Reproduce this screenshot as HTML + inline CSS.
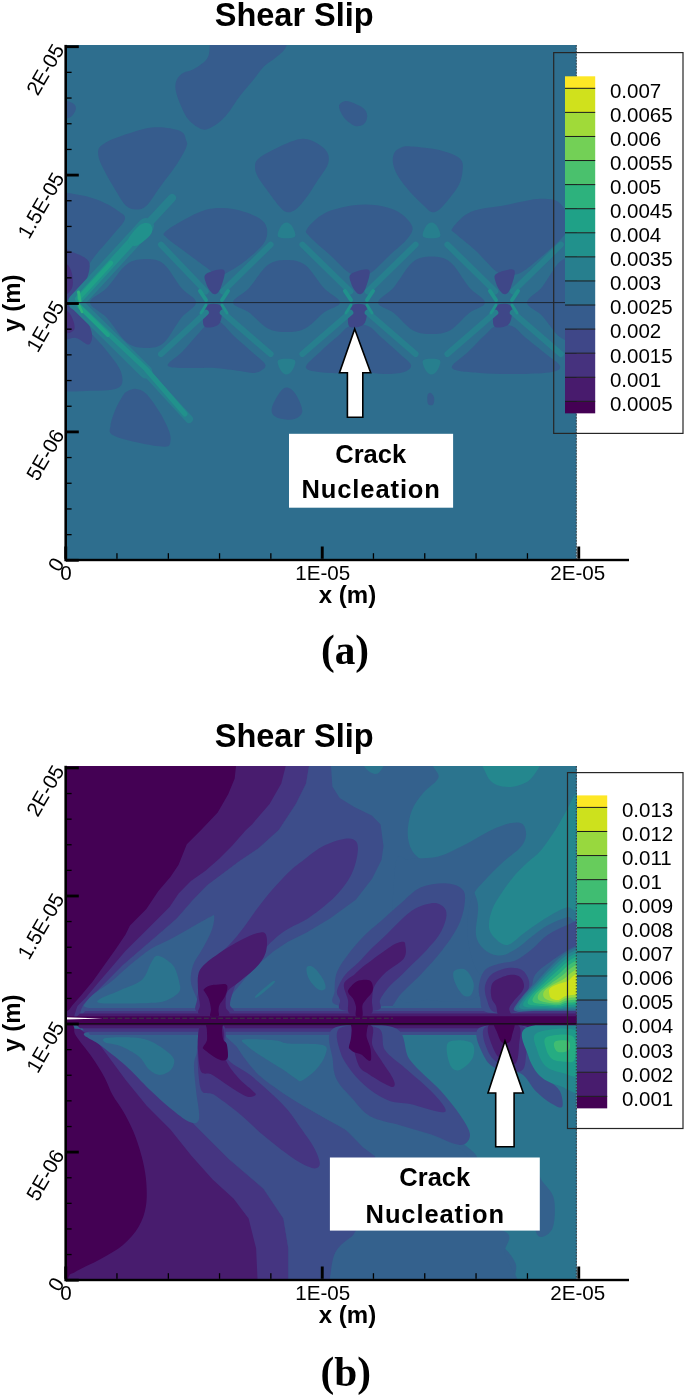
<!DOCTYPE html>
<html><head><meta charset="utf-8"><title>Shear Slip</title>
<style>html,body{margin:0;padding:0;background:#fff;} body{width:685px;height:1396px;overflow:hidden;} svg{display:block;will-change:transform;}</style>
</head><body>
<svg width="685" height="1396" viewBox="0 0 685 1396">
<clipPath id="ca"><rect x="66" y="45.1" width="510.6" height="514.9"/></clipPath>
<g clip-path="url(#ca)">
<rect x="60" y="40" width="530" height="530" fill="#2e6e8e"/>
<path fill="#365c8d" d="M209.8,38.0 C197.0,39.2 210.2,41.9 209.8,45.3 C209.4,48.7 209.8,54.5 207.2,58.4 C204.6,62.3 197.9,66.5 194.0,68.9 C190.1,71.3 186.3,71.0 183.5,72.8 C180.7,74.5 178.2,76.6 176.9,79.4 C175.6,82.2 174.9,85.5 175.6,89.9 C176.3,94.3 178.7,100.7 180.9,105.7 C183.1,110.7 185.3,116.2 188.8,120.1 C192.3,124.0 198.0,128.2 201.9,129.3 C205.8,130.4 208.5,128.9 212.4,126.7 C216.3,124.5 220.8,121.5 225.5,116.2 C230.2,111.0 235.8,101.3 240.5,95.2 C245.2,89.1 249.7,84.2 253.6,79.4 C257.6,74.6 260.7,69.8 264.2,66.3 C267.7,62.8 271.6,60.8 274.7,58.4 C277.8,56.0 280.6,54.0 282.6,51.8 C284.6,49.6 285.9,47.6 286.5,45.3 C287.1,43.0 299.3,39.2 286.5,38.0 C273.7,36.8 222.6,36.8 209.8,38.0Z"/>
<path fill="#365c8d" d="M60.0,100.4 C61.0,97.3 63.7,99.8 66.0,100.4 C68.3,101.0 72.4,102.5 74.0,104.0 C75.6,105.5 76.1,107.3 75.8,109.3 C75.5,111.3 73.6,114.4 72.0,116.0 C70.4,117.6 68.0,118.3 66.0,118.8 C64.0,119.3 61.0,121.9 60.0,118.8 C59.0,115.7 59.0,103.5 60.0,100.4Z"/>
<path fill="#365c8d" d="M339.0,105.7 C339.4,103.2 343.2,101.4 345.6,101.0 C348.0,100.6 350.4,101.8 353.5,103.1 C356.6,104.4 361.7,106.6 364.0,108.8 C366.3,111.0 367.2,113.7 367.2,116.2 C367.2,118.8 365.9,122.4 364.0,124.1 C362.1,125.8 358.5,126.4 356.1,126.2 C353.7,126.0 351.8,124.5 349.6,122.8 C347.4,121.1 344.8,119.0 343.0,116.2 C341.2,113.4 338.6,108.2 339.0,105.7Z"/>
<path fill="#365c8d" d="M98.1,153.0 C98.1,149.5 98.7,147.7 102.0,145.1 C105.3,142.5 109.5,140.1 117.8,137.2 C126.1,134.3 141.7,128.6 152.0,127.5 C162.3,126.4 173.9,128.6 179.6,130.7 C185.3,132.8 185.0,137.1 186.1,139.9 C187.2,142.7 187.8,143.3 186.1,147.7 C184.3,152.1 180.0,159.5 175.6,166.1 C171.2,172.7 164.7,180.6 159.9,187.2 C155.1,193.8 150.6,201.8 146.7,205.5 C142.8,209.2 139.7,209.5 136.2,209.5 C132.7,209.5 129.2,208.8 125.7,205.5 C122.2,202.2 119.2,196.4 115.2,189.8 C111.2,183.2 104.8,172.2 102.0,166.1 C99.2,160.0 98.1,156.5 98.1,153.0Z"/>
<path fill="#365c8d" d="M255.0,166.1 C255.2,163.0 255.6,161.0 258.9,158.2 C262.2,155.3 268.1,152.2 274.7,149.0 C281.3,145.8 292.2,140.7 298.3,139.3 C304.4,137.9 307.3,139.0 311.5,140.4 C315.7,141.8 320.5,145.2 323.3,147.7 C326.1,150.2 327.9,152.5 328.5,155.6 C329.1,158.7 329.2,161.7 327.2,166.1 C325.2,170.5 320.2,176.6 316.7,181.9 C313.2,187.2 309.7,193.1 306.2,197.7 C302.7,202.3 299.0,207.1 295.7,209.5 C292.4,211.9 289.4,212.8 286.5,212.1 C283.6,211.4 281.9,209.2 278.6,205.5 C275.3,201.8 270.3,194.6 266.8,189.8 C263.3,185.0 259.6,180.6 257.6,176.6 C255.6,172.6 254.8,169.2 255.0,166.1Z"/>
<path fill="#365c8d" d="M393.0,163.5 C392.3,159.6 392.9,155.6 394.2,153.0 C395.5,150.4 398.1,148.8 400.8,147.7 C403.5,146.6 404.9,146.2 410.5,146.4 C416.1,146.6 427.2,147.7 434.2,149.0 C441.2,150.3 448.0,152.3 452.6,154.3 C457.2,156.3 460.2,158.1 461.8,160.9 C463.4,163.8 462.9,167.5 462.5,171.4 C462.1,175.3 461.2,180.1 459.1,184.5 C457.0,188.9 453.2,193.5 449.9,197.7 C446.6,201.9 442.5,207.1 439.4,209.5 C436.3,211.9 434.1,212.8 431.5,212.1 C428.9,211.4 427.1,208.8 423.6,205.5 C420.1,202.2 414.7,197.2 410.5,192.4 C406.3,187.6 401.1,181.4 398.2,176.6 C395.3,171.8 393.7,167.4 393.0,163.5Z"/>
<path fill="#365c8d" d="M58.0,190.0 C59.3,171.7 61.3,191.3 66.0,192.4 C70.7,193.5 79.8,194.6 86.3,196.3 C92.8,198.1 99.5,200.5 104.7,202.9 C110.0,205.3 114.4,208.1 117.8,210.8 C121.2,213.5 126.0,214.8 125.0,219.0 C124.0,223.2 117.5,229.2 112.0,236.0 C106.5,242.8 98.3,251.0 92.0,260.0 C85.7,269.0 78.3,283.0 74.0,290.0 C69.7,297.0 68.7,300.0 66.0,302.0 C63.3,304.0 59.3,320.7 58.0,302.0 C56.7,283.3 56.7,208.3 58.0,190.0Z"/>
<path fill="#365c8d" d="M165.0,232.0 C167.8,229.0 176.8,223.7 183.5,220.0 C190.2,216.3 198.4,212.0 205.0,210.0 C211.6,208.0 217.2,207.9 223.0,208.0 C228.8,208.1 234.0,208.8 240.0,210.5 C246.0,212.2 254.4,215.1 258.9,218.0 C263.4,220.9 265.9,223.8 266.8,228.0 C267.7,232.2 267.5,237.6 264.0,243.0 C260.5,248.4 251.5,255.7 245.8,260.4 C240.1,265.1 234.6,268.4 230.0,271.0 C225.4,273.6 221.8,276.5 218.0,276.0 C214.2,275.5 212.3,271.9 207.0,268.0 C201.7,264.1 192.7,257.5 186.0,252.5 C179.3,247.5 170.5,241.4 167.0,238.0 C163.5,234.6 162.2,235.0 165.0,232.0Z"/>
<path fill="#365c8d" d="M307.0,229.0 C309.5,225.0 317.2,216.9 325.0,213.0 C332.8,209.1 344.8,206.6 353.5,205.3 C362.2,204.0 369.6,204.2 377.0,205.3 C384.4,206.4 392.4,208.4 398.2,211.8 C404.0,215.2 410.4,221.6 412.0,226.0 C413.6,230.4 411.7,233.2 408.0,238.0 C404.3,242.8 396.0,249.3 390.0,255.0 C384.0,260.7 377.0,268.5 372.0,272.0 C367.0,275.5 364.0,276.0 360.0,276.0 C356.0,276.0 353.0,275.5 348.0,272.0 C343.0,268.5 336.3,260.8 330.0,255.0 C323.7,249.2 313.8,241.3 310.0,237.0 C306.2,232.7 304.5,233.0 307.0,229.0Z"/>
<path fill="#365c8d" d="M452.6,228.0 C455.1,224.3 462.3,215.6 471.0,211.8 C479.7,208.0 495.2,207.3 505.0,205.3 C514.8,203.3 523.0,201.1 530.0,200.0 C537.0,198.9 542.4,198.7 547.0,199.0 C551.6,199.3 554.5,199.4 557.7,201.6 C560.9,203.8 564.3,207.6 566.0,212.0 C567.7,216.4 569.0,223.3 568.0,228.0 C567.0,232.7 564.7,235.0 560.0,240.0 C555.3,245.0 546.3,252.7 540.0,258.0 C533.7,263.3 527.0,269.2 522.0,272.0 C517.0,274.8 514.2,275.0 510.0,275.0 C505.8,275.0 502.8,276.2 497.0,272.0 C491.2,267.8 481.8,256.3 475.0,250.0 C468.2,243.7 459.7,237.7 456.0,234.0 C452.3,230.3 450.1,231.7 452.6,228.0Z"/>
<path fill="#365c8d" d="M90.0,302.5 C90.0,297.5 100.9,294.1 107.0,287.7 C113.2,281.3 120.2,269.0 126.9,264.2 C133.5,259.4 140.5,259.0 146.7,259.0 C152.9,259.0 158.2,259.4 164.0,264.2 C169.7,269.0 175.9,281.3 181.2,287.7 C186.6,294.1 196.0,297.5 196.0,302.5 C196.0,307.5 186.6,311.3 181.2,318.0 C175.9,324.6 169.7,337.5 164.0,342.5 C158.2,347.5 152.9,348.0 146.7,348.0 C140.5,348.0 133.5,347.5 126.9,342.5 C120.2,337.5 113.2,324.6 107.0,318.0 C100.9,311.3 90.0,307.5 90.0,302.5Z"/>
<path fill="#365c8d" d="M233.0,302.5 C233.0,298.4 243.3,294.3 249.1,288.1 C254.8,281.8 261.5,269.8 267.8,265.1 C274.0,260.4 280.3,260.0 286.5,260.0 C292.7,260.0 299.0,260.4 305.2,265.1 C311.5,269.8 318.2,281.8 323.9,288.1 C329.7,294.3 340.0,298.4 340.0,302.5 C340.0,306.6 329.7,308.2 323.9,312.5 C318.2,316.9 311.5,325.2 305.2,328.5 C299.0,331.7 292.7,332.0 286.5,332.0 C280.3,332.0 274.0,331.7 267.8,328.5 C261.5,325.2 254.8,316.9 249.1,312.5 C243.3,308.2 233.0,306.6 233.0,302.5Z"/>
<path fill="#365c8d" d="M378.0,302.5 C378.0,298.1 388.3,293.6 394.1,286.9 C399.8,280.1 406.5,267.1 412.8,262.0 C419.0,257.0 425.3,256.5 431.5,256.5 C437.7,256.5 444.0,257.0 450.2,262.0 C456.5,267.1 463.2,280.1 468.9,286.9 C474.7,293.6 485.0,298.1 485.0,302.5 C485.0,306.9 474.7,308.6 468.9,313.2 C463.2,317.8 456.5,326.8 450.2,330.2 C444.0,333.7 437.7,334.0 431.5,334.0 C425.3,334.0 419.0,333.7 412.8,330.2 C406.5,326.8 399.8,317.8 394.1,313.2 C388.3,308.6 378.0,306.9 378.0,302.5Z"/>
<path fill="#365c8d" d="M527.0,302.5 C527.0,297.6 536.8,293.5 542.3,286.7 C547.8,279.9 554.2,266.7 560.1,261.6 C566.1,256.5 572.0,256.0 578.0,256.0 C584.0,256.0 590.1,256.5 596.2,261.6 C602.3,266.7 608.8,279.9 614.4,286.7 C620.0,293.5 630.0,297.6 630.0,302.5 C630.0,307.4 620.0,310.1 614.4,315.9 C608.8,321.7 602.3,332.9 596.2,337.3 C590.1,341.6 584.0,342.0 578.0,342.0 C572.0,342.0 566.1,341.6 560.1,337.3 C554.2,332.9 547.8,321.7 542.3,315.9 C536.8,310.1 527.0,307.4 527.0,302.5Z"/>
<path fill="#365c8d" d="M58.0,306.0 C60.0,292.4 65.0,306.0 70.0,310.0 C75.0,314.0 82.0,323.3 88.0,330.0 C94.0,336.7 100.5,343.0 106.0,350.0 C111.5,357.0 119.0,365.7 121.0,372.0 C123.0,378.3 123.8,384.8 118.0,388.0 C112.2,391.2 95.0,390.4 86.3,391.0 C77.6,391.6 70.7,391.4 66.0,391.5 C61.3,391.6 59.3,405.8 58.0,391.5 C56.7,377.2 56.0,319.6 58.0,306.0Z"/>
<path fill="#365c8d" d="M168.0,366.0 C165.6,363.3 177.0,357.3 182.0,352.0 C187.0,346.7 193.3,339.0 198.0,334.0 C202.7,329.0 206.3,324.0 210.0,322.0 C213.7,320.0 216.0,319.7 220.0,322.0 C224.0,324.3 228.7,331.0 234.0,336.0 C239.3,341.0 246.8,347.3 252.0,352.0 C257.2,356.7 263.3,361.0 265.0,364.0 C266.7,367.0 263.9,368.5 262.0,370.0 C260.1,371.5 257.3,372.8 253.6,373.0 C249.9,373.2 246.4,371.8 240.0,371.0 C233.6,370.2 222.2,368.5 215.0,368.0 C207.8,367.5 204.4,368.3 196.6,368.0 C188.8,367.7 170.4,368.7 168.0,366.0Z"/>
<path fill="#365c8d" d="M306.0,368.0 C304.3,364.5 314.7,357.3 320.0,352.0 C325.3,346.7 333.0,340.3 338.0,336.0 C343.0,331.7 345.0,327.7 350.0,326.0 C355.0,324.3 362.7,324.0 368.0,326.0 C373.3,328.0 376.7,333.3 382.0,338.0 C387.3,342.7 395.2,349.5 400.0,354.0 C404.8,358.5 410.3,362.0 411.0,365.0 C411.7,368.0 408.3,370.5 404.0,372.0 C399.7,373.5 392.3,374.0 385.0,374.0 C377.7,374.0 369.2,372.2 360.0,372.0 C350.8,371.8 339.0,373.7 330.0,373.0 C321.0,372.3 307.7,371.5 306.0,368.0Z"/>
<path fill="#365c8d" d="M452.0,368.0 C450.0,364.5 462.3,357.7 468.0,352.0 C473.7,346.3 481.3,338.3 486.0,334.0 C490.7,329.7 491.7,327.3 496.0,326.0 C500.3,324.7 507.0,324.0 512.0,326.0 C517.0,328.0 520.3,333.3 526.0,338.0 C531.7,342.7 540.3,349.3 546.0,354.0 C551.7,358.7 559.0,363.0 560.0,366.0 C561.0,369.0 558.7,370.7 552.0,372.0 C545.3,373.3 532.0,373.8 520.0,374.0 C508.0,374.2 491.3,374.0 480.0,373.0 C468.7,372.0 454.0,371.5 452.0,368.0Z"/>
<path fill="#365c8d" d="M127.0,391.5 C129.2,390.4 132.9,388.4 136.2,388.9 C139.5,389.3 142.8,390.2 146.7,394.2 C150.6,398.1 156.2,406.5 159.9,412.6 C163.6,418.7 167.2,426.2 169.0,431.0 C170.8,435.8 171.1,438.9 170.4,441.5 C169.8,444.1 170.4,446.5 165.1,446.7 C159.8,446.9 147.6,444.8 138.8,442.8 C130.1,440.8 117.3,437.8 112.6,434.9 C107.9,432.0 110.1,429.8 110.5,425.7 C110.9,421.6 113.1,415.0 115.2,410.0 C117.3,405.0 121.0,398.6 123.0,395.5 C125.0,392.4 124.8,392.6 127.0,391.5Z"/>
<path fill="#365c8d" d="M272.0,407.3 C272.9,403.8 276.2,397.5 278.6,394.2 C281.0,390.9 283.6,387.6 286.5,387.6 C289.4,387.6 293.1,390.3 295.7,394.2 C298.3,398.1 302.5,407.0 302.3,411.2 C302.1,415.4 297.7,417.8 294.4,419.1 C291.1,420.4 286.1,419.8 282.6,419.1 C279.1,418.5 275.2,417.2 273.4,415.2 C271.6,413.2 271.1,410.8 272.0,407.3Z"/>
<path fill="#365c8d" d="M427.6,395.0 C428.1,393.2 429.9,392.5 431.0,393.0 C432.1,393.5 433.9,396.1 434.2,398.0 C434.5,399.9 434.0,403.7 433.0,404.7 C432.0,405.7 428.9,405.6 428.0,404.0 C427.1,402.4 427.1,396.8 427.6,395.0Z"/>
<path fill="#3f4788" d="M58.0,250.0 C60.3,242.0 66.8,250.0 72.0,252.0 C77.2,254.0 86.7,257.0 89.0,262.0 C91.3,267.0 87.7,275.7 86.0,282.0 C84.3,288.3 83.7,297.0 79.0,300.0 C74.3,303.0 61.5,308.3 58.0,300.0 C54.5,291.7 55.7,258.0 58.0,250.0Z"/>
<path fill="#46327e" d="M58.0,262.0 C60.0,257.3 67.7,263.7 70.0,268.0 C72.3,272.3 74.0,283.3 72.0,288.0 C70.0,292.7 60.3,300.3 58.0,296.0 C55.7,291.7 56.0,266.7 58.0,262.0Z"/>
<path fill="#3f4788" d="M58.0,305.0 C61.6,300.4 74.1,306.0 79.7,310.4 C85.3,314.8 90.0,325.7 91.5,331.4 C93.0,337.1 91.6,343.4 89.0,344.5 C86.4,345.6 81.0,339.1 75.8,338.0 C70.6,336.9 61.0,343.5 58.0,338.0 C55.0,332.5 54.4,309.6 58.0,305.0Z"/>
<path fill="#46327e" d="M58.0,308.0 C60.0,305.0 67.3,310.3 70.0,314.0 C72.7,317.7 76.0,327.0 74.0,330.0 C72.0,333.0 60.7,335.7 58.0,332.0 C55.3,328.3 56.0,311.0 58.0,308.0Z"/>
<path fill="#3f4788" d="M206.0,274.0 C209.0,271.8 221.5,267.8 224.0,270.0 C226.5,272.2 222.3,283.0 221.0,287.0 C219.7,291.0 217.7,293.2 216.0,294.0 C214.3,294.8 212.7,293.8 211.0,292.0 C209.3,290.2 206.8,286.0 206.0,283.0 C205.2,280.0 203.0,276.2 206.0,274.0Z"/>
<path fill="#3f4788" d="M206.0,306.0 C208.8,302.7 218.8,303.0 221.0,306.0 C223.2,309.0 221.8,320.7 219.0,324.0 C216.2,327.3 206.2,329.0 204.0,326.0 C201.8,323.0 203.2,309.3 206.0,306.0Z"/>
<path fill="#3f4788" d="M351.0,274.0 C354.0,271.8 366.5,267.8 369.0,270.0 C371.5,272.2 367.3,283.0 366.0,287.0 C364.7,291.0 362.7,293.2 361.0,294.0 C359.3,294.8 357.7,293.8 356.0,292.0 C354.3,290.2 351.8,286.0 351.0,283.0 C350.2,280.0 348.0,276.2 351.0,274.0Z"/>
<path fill="#3f4788" d="M351.0,306.0 C353.8,302.7 363.8,303.0 366.0,306.0 C368.2,309.0 366.8,320.7 364.0,324.0 C361.2,327.3 351.2,329.0 349.0,326.0 C346.8,323.0 348.2,309.3 351.0,306.0Z"/>
<path fill="#3f4788" d="M496.0,274.0 C499.0,271.8 511.5,267.8 514.0,270.0 C516.5,272.2 512.3,283.0 511.0,287.0 C509.7,291.0 507.7,293.2 506.0,294.0 C504.3,294.8 502.7,293.8 501.0,292.0 C499.3,290.2 496.8,286.0 496.0,283.0 C495.2,280.0 493.0,276.2 496.0,274.0Z"/>
<path fill="#3f4788" d="M496.0,306.0 C498.8,302.7 508.8,303.0 511.0,306.0 C513.2,309.0 511.8,320.7 509.0,324.0 C506.2,327.3 496.2,329.0 494.0,326.0 C491.8,323.0 493.2,309.3 496.0,306.0Z"/>
<path fill="none" stroke="#277f8e" stroke-width="16" stroke-linecap="round" stroke-linejoin="round" d="M76.0,302.0 L146.0,226.0"/>
<path fill="none" stroke="#277f8e" stroke-width="8" stroke-linecap="round" stroke-linejoin="round" d="M146.0,226.0 L172.0,198.0"/>
<path fill="none" stroke="#277f8e" stroke-width="13" stroke-linecap="round" stroke-linejoin="round" d="M76.0,303.0 L146.0,372.0"/>
<path fill="none" stroke="#277f8e" stroke-width="8" stroke-linecap="round" stroke-linejoin="round" d="M146.0,372.0 L189.0,419.0"/>
<path fill="none" stroke="#21918c" stroke-width="8" stroke-linecap="round" stroke-linejoin="round" d="M79.0,299.0 L142.0,230.0"/>
<path fill="#21918c" d="M128.0,240.0 C128.8,236.5 136.3,227.7 140.0,225.0 C143.7,222.3 148.0,222.8 150.0,224.0 C152.0,225.2 152.8,229.3 152.0,232.0 C151.2,234.7 147.8,237.7 145.0,240.0 C142.2,242.3 137.8,246.0 135.0,246.0 C132.2,246.0 127.2,243.5 128.0,240.0Z"/>
<path fill="none" stroke="#21918c" stroke-width="5" stroke-linecap="round" stroke-linejoin="round" d="M79.0,306.0 L146.0,369.0 L185.0,414.0"/>
<path fill="none" stroke="#1fa187" stroke-width="4.5" stroke-linecap="round" stroke-linejoin="round" d="M79.0,298.0 L111.0,263.0"/>
<path fill="none" stroke="#1fa187" stroke-width="4" stroke-linecap="round" stroke-linejoin="round" d="M80.0,307.0 L108.0,335.0"/>
<path fill="none" stroke="#2db27d" stroke-width="3" stroke-linecap="round" stroke-linejoin="round" d="M78.5,292.0 L80.0,301.0"/>
<path fill="none" stroke="#2db27d" stroke-width="2.5" stroke-linecap="round" stroke-linejoin="round" d="M79.0,305.0 L82.0,312.0"/>
<path fill="none" stroke="#277f8e" stroke-width="6" stroke-linecap="round" stroke-linejoin="round" d="M205.8,291.5 L161.0,244.6"/>
<path fill="none" stroke="#277f8e" stroke-width="6" stroke-linecap="round" stroke-linejoin="round" d="M205.8,312.6 L161.0,354.1"/>
<path fill="none" stroke="#277f8e" stroke-width="6" stroke-linecap="round" stroke-linejoin="round" d="M350.3,291.5 L302.4,244.6"/>
<path fill="none" stroke="#277f8e" stroke-width="6" stroke-linecap="round" stroke-linejoin="round" d="M350.3,312.6 L302.4,354.1"/>
<path fill="none" stroke="#277f8e" stroke-width="6" stroke-linecap="round" stroke-linejoin="round" d="M222.7,291.5 L270.6,244.6"/>
<path fill="none" stroke="#277f8e" stroke-width="6" stroke-linecap="round" stroke-linejoin="round" d="M222.7,312.6 L270.6,354.1"/>
<path fill="none" stroke="#277f8e" stroke-width="6" stroke-linecap="round" stroke-linejoin="round" d="M495.3,291.5 L447.4,244.6"/>
<path fill="none" stroke="#277f8e" stroke-width="6" stroke-linecap="round" stroke-linejoin="round" d="M495.3,312.6 L447.4,354.1"/>
<path fill="none" stroke="#277f8e" stroke-width="6" stroke-linecap="round" stroke-linejoin="round" d="M367.7,291.5 L415.6,244.6"/>
<path fill="none" stroke="#277f8e" stroke-width="6" stroke-linecap="round" stroke-linejoin="round" d="M367.7,312.6 L415.6,354.1"/>
<path fill="none" stroke="#277f8e" stroke-width="6" stroke-linecap="round" stroke-linejoin="round" d="M641.2,291.5 L593.1,244.6"/>
<path fill="none" stroke="#277f8e" stroke-width="6" stroke-linecap="round" stroke-linejoin="round" d="M641.2,312.6 L593.1,354.1"/>
<path fill="none" stroke="#277f8e" stroke-width="6" stroke-linecap="round" stroke-linejoin="round" d="M512.8,291.5 L560.9,244.6"/>
<path fill="none" stroke="#277f8e" stroke-width="6" stroke-linecap="round" stroke-linejoin="round" d="M512.8,312.6 L560.9,354.1"/>
<path fill="none" stroke="#21918c" stroke-width="4" stroke-linecap="round" stroke-linejoin="round" d="M206.0,300.0 L200.0,291.0"/>
<path fill="none" stroke="#21918c" stroke-width="4" stroke-linecap="round" stroke-linejoin="round" d="M222.0,300.0 L228.0,291.0"/>
<path fill="none" stroke="#21918c" stroke-width="3" stroke-linecap="round" stroke-linejoin="round" d="M206.0,305.0 L201.0,313.0"/>
<path fill="none" stroke="#21918c" stroke-width="3" stroke-linecap="round" stroke-linejoin="round" d="M222.0,305.0 L227.0,313.0"/>
<path fill="none" stroke="#21918c" stroke-width="4" stroke-linecap="round" stroke-linejoin="round" d="M351.0,300.0 L345.0,291.0"/>
<path fill="none" stroke="#21918c" stroke-width="4" stroke-linecap="round" stroke-linejoin="round" d="M367.0,300.0 L373.0,291.0"/>
<path fill="none" stroke="#21918c" stroke-width="3" stroke-linecap="round" stroke-linejoin="round" d="M351.0,305.0 L346.0,313.0"/>
<path fill="none" stroke="#21918c" stroke-width="3" stroke-linecap="round" stroke-linejoin="round" d="M367.0,305.0 L372.0,313.0"/>
<path fill="none" stroke="#21918c" stroke-width="4" stroke-linecap="round" stroke-linejoin="round" d="M496.0,300.0 L490.0,291.0"/>
<path fill="none" stroke="#21918c" stroke-width="4" stroke-linecap="round" stroke-linejoin="round" d="M512.0,300.0 L518.0,291.0"/>
<path fill="none" stroke="#21918c" stroke-width="3" stroke-linecap="round" stroke-linejoin="round" d="M496.0,305.0 L491.0,313.0"/>
<path fill="none" stroke="#21918c" stroke-width="3" stroke-linecap="round" stroke-linejoin="round" d="M512.0,305.0 L517.0,313.0"/>
<path fill="#277f8e" d="M278.5,237.0 C276.2,235.3 279.2,229.4 280.5,227.0 C281.8,224.6 284.5,222.6 286.5,222.6 C288.5,222.6 291.2,224.6 292.5,227.0 C293.8,229.4 296.8,235.3 294.5,237.0 C292.2,238.7 280.8,238.7 278.5,237.0Z"/>
<path fill="#277f8e" d="M278.5,360.0 C276.2,361.7 279.2,367.6 280.5,370.0 C281.8,372.4 284.5,374.5 286.5,374.5 C288.5,374.5 291.2,372.4 292.5,370.0 C293.8,367.6 296.8,361.7 294.5,360.0 C292.2,358.3 280.8,358.3 278.5,360.0Z"/>
<path fill="#277f8e" d="M423.5,237.0 C421.2,235.3 424.2,229.4 425.5,227.0 C426.8,224.6 429.5,222.6 431.5,222.6 C433.5,222.6 436.2,224.6 437.5,227.0 C438.8,229.4 441.8,235.3 439.5,237.0 C437.2,238.7 425.8,238.7 423.5,237.0Z"/>
<path fill="#277f8e" d="M423.5,360.0 C421.2,361.7 424.2,367.6 425.5,370.0 C426.8,372.4 429.5,374.5 431.5,374.5 C433.5,374.5 436.2,372.4 437.5,370.0 C438.8,367.6 441.8,361.7 439.5,360.0 C437.2,358.3 425.8,358.3 423.5,360.0Z"/>
<rect x="66" y="302" width="500" height="1.1" fill="#1e2a3a"/>
</g>
<line x1="576.3" y1="45.1" x2="576.3" y2="559" stroke="#333" stroke-width="0.9" stroke-dasharray="1.5,1.5"/>
<rect x="553.7" y="52.6" width="129.29999999999995" height="380.8" fill="none" stroke="#262626" stroke-width="1.2"/>
<rect x="565" y="76.30" width="30.2" height="12.00" fill="#fde725"/>
<rect x="565" y="88.30" width="30.2" height="24.08" fill="#d0e11c"/>
<rect x="565" y="112.38" width="30.2" height="24.08" fill="#a0da39"/>
<rect x="565" y="136.46" width="30.2" height="24.08" fill="#73d056"/>
<rect x="565" y="160.54" width="30.2" height="24.08" fill="#4ac16d"/>
<rect x="565" y="184.62" width="30.2" height="24.08" fill="#2db27d"/>
<rect x="565" y="208.70" width="30.2" height="24.08" fill="#1fa187"/>
<rect x="565" y="232.78" width="30.2" height="24.08" fill="#21918c"/>
<rect x="565" y="256.86" width="30.2" height="24.08" fill="#277f8e"/>
<rect x="565" y="280.94" width="30.2" height="24.08" fill="#2e6e8e"/>
<rect x="565" y="305.02" width="30.2" height="24.08" fill="#365c8d"/>
<rect x="565" y="329.10" width="30.2" height="24.08" fill="#3f4788"/>
<rect x="565" y="353.18" width="30.2" height="24.08" fill="#46327e"/>
<rect x="565" y="377.26" width="30.2" height="24.08" fill="#481b6d"/>
<rect x="565" y="401.34" width="30.2" height="12.00" fill="#440154"/>
<rect x="565" y="87.80" width="30.2" height="1" fill="#1a1a1a"/>
<rect x="565" y="111.88" width="30.2" height="1" fill="#1a1a1a"/>
<rect x="565" y="135.96" width="30.2" height="1" fill="#1a1a1a"/>
<rect x="565" y="160.04" width="30.2" height="1" fill="#1a1a1a"/>
<rect x="565" y="184.12" width="30.2" height="1" fill="#1a1a1a"/>
<rect x="565" y="208.20" width="30.2" height="1" fill="#1a1a1a"/>
<rect x="565" y="232.28" width="30.2" height="1" fill="#1a1a1a"/>
<rect x="565" y="256.36" width="30.2" height="1" fill="#1a1a1a"/>
<rect x="565" y="280.44" width="30.2" height="1" fill="#1a1a1a"/>
<rect x="565" y="304.52" width="30.2" height="1" fill="#1a1a1a"/>
<rect x="565" y="328.60" width="30.2" height="1" fill="#1a1a1a"/>
<rect x="565" y="352.68" width="30.2" height="1" fill="#1a1a1a"/>
<rect x="565" y="376.76" width="30.2" height="1" fill="#1a1a1a"/>
<rect x="565" y="400.84" width="30.2" height="1" fill="#1a1a1a"/>
<text x="609.9" y="97.6" font-family='"Liberation Sans", sans-serif' font-size="20.5">0.007</text>
<text x="609.9" y="121.7" font-family='"Liberation Sans", sans-serif' font-size="20.5">0.0065</text>
<text x="609.9" y="145.8" font-family='"Liberation Sans", sans-serif' font-size="20.5">0.006</text>
<text x="609.9" y="169.8" font-family='"Liberation Sans", sans-serif' font-size="20.5">0.0055</text>
<text x="609.9" y="193.9" font-family='"Liberation Sans", sans-serif' font-size="20.5">0.005</text>
<text x="609.9" y="218.0" font-family='"Liberation Sans", sans-serif' font-size="20.5">0.0045</text>
<text x="609.9" y="242.1" font-family='"Liberation Sans", sans-serif' font-size="20.5">0.004</text>
<text x="609.9" y="266.2" font-family='"Liberation Sans", sans-serif' font-size="20.5">0.0035</text>
<text x="609.9" y="290.2" font-family='"Liberation Sans", sans-serif' font-size="20.5">0.003</text>
<text x="609.9" y="314.3" font-family='"Liberation Sans", sans-serif' font-size="20.5">0.0025</text>
<text x="609.9" y="338.4" font-family='"Liberation Sans", sans-serif' font-size="20.5">0.002</text>
<text x="609.9" y="362.5" font-family='"Liberation Sans", sans-serif' font-size="20.5">0.0015</text>
<text x="609.9" y="386.6" font-family='"Liberation Sans", sans-serif' font-size="20.5">0.001</text>
<text x="609.9" y="410.6" font-family='"Liberation Sans", sans-serif' font-size="20.5">0.0005</text>
<rect x="64.4" y="44.9" width="2.6" height="516.3000000000001" fill="#000"/>
<rect x="64.8" y="558.8" width="564.2" height="2.4" fill="#000"/>
<rect x="66" y="45.3" width="12.8" height="2.8" fill="#000"/>
<rect x="66" y="71.7" width="5.6" height="1.3" fill="#000"/>
<rect x="66" y="97.4" width="5.6" height="1.3" fill="#000"/>
<rect x="66" y="123.1" width="5.6" height="1.3" fill="#000"/>
<rect x="66" y="148.8" width="5.6" height="1.3" fill="#000"/>
<rect x="66" y="173.7" width="12.8" height="2.8" fill="#000"/>
<rect x="66" y="200.1" width="5.6" height="1.3" fill="#000"/>
<rect x="66" y="225.8" width="5.6" height="1.3" fill="#000"/>
<rect x="66" y="251.5" width="5.6" height="1.3" fill="#000"/>
<rect x="66" y="277.2" width="5.6" height="1.3" fill="#000"/>
<rect x="66" y="302.1" width="12.8" height="2.8" fill="#000"/>
<rect x="66" y="328.5" width="5.6" height="1.3" fill="#000"/>
<rect x="66" y="354.2" width="5.6" height="1.3" fill="#000"/>
<rect x="66" y="379.9" width="5.6" height="1.3" fill="#000"/>
<rect x="66" y="405.6" width="5.6" height="1.3" fill="#000"/>
<rect x="66" y="430.5" width="12.8" height="2.8" fill="#000"/>
<rect x="66" y="456.9" width="5.6" height="1.3" fill="#000"/>
<rect x="66" y="482.6" width="5.6" height="1.3" fill="#000"/>
<rect x="66" y="508.3" width="5.6" height="1.3" fill="#000"/>
<rect x="66" y="534.0" width="5.6" height="1.3" fill="#000"/>
<rect x="66" y="558.9" width="12.8" height="2.8" fill="#000"/>
<rect x="64.3" y="546.5" width="2.9" height="12.3" fill="#000"/>
<rect x="116.3" y="553.2" width="1.3" height="5.6" fill="#000"/>
<rect x="167.7" y="553.2" width="1.3" height="5.6" fill="#000"/>
<rect x="218.9" y="553.2" width="1.3" height="5.6" fill="#000"/>
<rect x="270.2" y="553.2" width="1.3" height="5.6" fill="#000"/>
<rect x="320.8" y="546.5" width="2.9" height="12.3" fill="#000"/>
<rect x="372.8" y="553.2" width="1.3" height="5.6" fill="#000"/>
<rect x="424.1" y="553.2" width="1.3" height="5.6" fill="#000"/>
<rect x="475.4" y="553.2" width="1.3" height="5.6" fill="#000"/>
<rect x="526.8" y="553.2" width="1.3" height="5.6" fill="#000"/>
<rect x="577.3" y="546.5" width="2.9" height="12.3" fill="#000"/>
<text x="294.2" y="25.5" text-anchor="middle" font-family='"Liberation Sans", sans-serif' font-weight="bold" font-size="32.5">Shear Slip</text>
<text x="66" y="580.2" text-anchor="middle" font-family='"Liberation Sans", sans-serif' font-size="20.6">0</text>
<text x="322.7" y="580.2" text-anchor="middle" font-family='"Liberation Sans", sans-serif' font-size="20.6">1E-05</text>
<text x="577.7" y="580.2" text-anchor="middle" font-family='"Liberation Sans", sans-serif' font-size="20.6">2E-05</text>
<text transform="translate(65,49.4) rotate(-60)" x="0" y="0" text-anchor="end" font-family='"Liberation Sans", sans-serif' font-size="20.5">2E-05</text>
<text transform="translate(65,177.80000000000004) rotate(-60)" x="0" y="0" text-anchor="end" font-family='"Liberation Sans", sans-serif' font-size="20.5">1.5E-05</text>
<text transform="translate(65,306.2) rotate(-60)" x="0" y="0" text-anchor="end" font-family='"Liberation Sans", sans-serif' font-size="20.5">1E-05</text>
<text transform="translate(65,434.59999999999997) rotate(-60)" x="0" y="0" text-anchor="end" font-family='"Liberation Sans", sans-serif' font-size="20.5">5E-06</text>
<text transform="translate(65,563.0) rotate(-60)" x="0" y="0" text-anchor="end" font-family='"Liberation Sans", sans-serif' font-size="20.5">0</text>
<text x="347.5" y="603.1" text-anchor="middle" font-family='"Liberation Sans", sans-serif' font-weight="bold" font-size="24">x (m)</text>
<text transform="translate(19.9,303.2) rotate(-90)" text-anchor="middle" font-family='"Liberation Sans", sans-serif' font-weight="bold" font-size="24">y (m)</text>
<text x="345" y="663.8" text-anchor="middle" font-family='"Liberation Serif", serif' font-weight="bold" font-size="41.3">(a)</text>
<path d="M354.7,329.0 L370.7,372.8 L362.8,372.8 L362.8,417.2 L347.4,417.2 L347.4,372.8 L339.5,372.8Z" fill="#fff" stroke="#000" stroke-width="1.6" stroke-linejoin="miter"/>
<rect x="289" y="433.8" width="164.10000000000002" height="73.89999999999998" fill="#fff"/>
<text x="370.7" y="462.5" text-anchor="middle" font-family='"Liberation Sans", sans-serif' font-weight="bold" font-size="25.5">Crack</text>
<text x="371.15" y="498.2" text-anchor="middle" font-family='"Liberation Sans", sans-serif' font-weight="bold" font-size="25.5" letter-spacing="0.9">Nucleation</text>
<clipPath id="cb"><rect x="66" y="766.0" width="510.6" height="514.0"/></clipPath>
<g clip-path="url(#cb)">
<rect x="60" y="760" width="530" height="530" fill="#34618d"/>
<path fill="#2b748e" d="M442.8,755.0 C418.4,758.8 441.6,771.5 438.4,777.7 C435.2,783.9 428.2,786.9 423.8,792.3 C419.4,797.6 414.8,803.0 412.1,809.8 C409.4,816.6 407.7,826.4 407.7,833.2 C407.7,840.0 409.4,846.1 412.1,850.7 C414.8,855.3 419.4,859.0 423.8,860.9 C428.2,862.8 433.2,861.2 438.4,862.4 C443.6,863.6 449.7,864.2 455.0,868.0 C460.3,871.8 466.2,878.8 470.0,885.0 C473.8,891.2 477.0,896.7 478.0,905.0 C479.0,913.3 474.8,927.5 476.0,935.0 C477.2,942.5 481.0,946.6 485.0,950.0 C489.0,953.4 494.8,955.7 500.0,955.5 C505.2,955.3 510.6,952.2 516.0,949.0 C521.4,945.8 526.7,940.2 532.1,936.2 C537.5,932.2 542.3,928.2 548.2,925.0 C554.1,921.8 561.3,919.0 567.4,917.0 C573.5,915.0 582.1,940.0 585.0,913.0 C587.9,886.0 608.7,781.3 585.0,755.0 C561.3,728.7 467.2,751.2 442.8,755.0Z"/>
<path fill="#34618d" d="M395.0,868.0 C397.4,846.2 402.0,861.3 409.2,859.4 C416.4,857.5 429.1,858.9 438.4,856.5 C447.6,854.1 455.9,849.2 464.7,844.8 C473.5,840.4 483.2,833.8 491.0,830.2 C498.8,826.6 506.1,824.0 511.4,823.0 C516.7,822.0 520.6,822.2 523.0,824.4 C525.4,826.6 526.5,832.1 526.0,836.0 C525.5,839.9 523.9,843.4 520.0,847.8 C516.1,852.2 508.4,857.0 502.6,862.4 C496.8,867.8 490.0,874.5 485.1,879.9 C480.2,885.2 476.2,888.6 473.4,894.5 C470.5,900.4 468.9,907.4 468.0,915.0 C467.1,922.6 467.0,931.7 468.0,940.0 C469.0,948.3 471.2,957.5 474.0,965.0 C476.8,972.5 485.7,979.2 485.0,985.0 C484.3,990.8 479.2,997.5 470.0,1000.0 C460.8,1002.5 442.5,1001.7 430.0,1000.0 C417.5,998.3 400.8,1012.0 395.0,990.0 C389.2,968.0 392.6,889.8 395.0,868.0Z"/>
<path fill="#24878e" d="M585.0,790.0 C583.3,772.0 578.0,791.7 575.0,795.0 C572.0,798.3 570.2,803.9 566.9,809.8 C563.6,815.7 559.6,823.4 555.2,830.2 C550.8,837.0 545.1,845.4 540.6,850.7 C536.1,856.0 532.3,858.0 528.0,862.0 C523.7,866.0 519.2,870.1 515.0,875.0 C510.8,879.9 506.4,885.7 502.6,891.5 C498.8,897.3 494.2,903.7 492.0,910.0 C489.8,916.3 488.0,923.9 489.3,929.3 C490.6,934.7 496.5,940.0 499.9,942.5 C503.3,945.0 505.6,945.8 509.6,944.2 C513.6,942.6 519.0,936.7 524.1,933.0 C529.2,929.3 534.8,925.3 540.1,921.8 C545.5,918.3 551.7,914.5 556.2,912.1 C560.8,909.7 562.6,908.8 567.4,907.3 C572.2,905.8 582.1,922.5 585.0,903.0 C587.9,883.5 586.7,808.0 585.0,790.0Z"/>
<path fill="#24878e" d="M485.1,755.0 C476.4,758.3 484.7,769.8 486.6,774.8 C488.6,779.8 492.2,783.1 496.8,785.0 C501.4,786.9 508.5,787.6 514.3,786.4 C520.1,785.2 527.7,782.9 531.8,777.7 C535.9,772.5 546.9,758.8 539.1,755.0 C531.3,751.2 493.9,751.7 485.1,755.0Z"/>
<path fill="#2b748e" d="M362.0,755.0 C358.3,756.8 362.4,763.0 364.0,766.0 C365.6,769.0 369.3,772.0 371.9,773.0 C374.5,774.0 377.4,774.8 379.8,771.8 C382.2,768.8 389.0,757.8 386.0,755.0 C383.0,752.2 365.7,753.2 362.0,755.0Z"/>
<path fill="#3d4d8a" d="M309.0,755.0 L309.0,766.0 L306.1,783.5 L295.9,804.0 L278.8,830.0 L258.3,848.4 L239.9,860.7 L223.6,872.9 L207.2,885.2 L192.9,900.0 L176.8,918.4 L158.1,934.7 L141.8,948.8 L123.0,965.1 L106.7,981.5 L92.7,995.5 L83.4,1004.8 L81.0,1010.0 L81.0,1014.0 L222.0,1014.0 L222.0,1012.0 L223.4,1004.8 L235.0,990.8 L248.0,975.0 L260.0,962.8 L274.0,951.1 L288.0,941.8 L306.7,932.4 L330.0,918.4 L355.8,899.7 L372.1,878.7 L381.5,860.0 L383.5,846.0 L380.6,824.4 L371.8,815.6 L354.3,806.9 L339.7,798.1 L332.4,786.4 L331.0,766.0 L331.0,755.0Z"/>
<path fill="#453581" d="M58.0,755.0 L309.0,755.0 L309.0,766.0 L306.1,783.5 L295.9,804.0 L278.8,830.0 L258.3,848.4 L239.9,860.7 L223.6,872.9 L207.2,885.2 L192.9,900.0 L176.8,918.4 L158.1,934.7 L141.8,948.8 L123.0,965.1 L106.7,981.5 L92.7,995.5 L83.4,1004.8 L81.0,1010.0 L80.0,1016.0 L58.0,1016.0Z"/>
<path fill="#481c6e" d="M58.0,755.0 L285.7,755.0 L285.7,766.0 L281.3,783.5 L269.6,804.0 L252.0,824.4 L246.0,830.0 L231.7,846.3 L219.5,858.6 L205.2,870.9 L190.9,881.1 L178.6,893.4 L169.8,906.7 L158.1,918.4 L141.8,934.7 L125.4,951.1 L111.4,967.5 L97.4,983.8 L85.7,997.8 L77.5,1006.0 L76.0,1010.0 L74.0,1017.0 L58.0,1017.0Z"/>
<path fill="#440154" d="M58.0,755.0 L236.0,755.0 L236.0,766.0 L234.7,778.4 L228.2,794.2 L217.7,812.6 L201.1,830.0 L186.8,844.3 L178.6,864.7 L170.4,877.0 L158.2,891.3 L146.4,909.0 L130.0,925.4 L125.4,934.7 L116.0,948.8 L104.4,965.1 L92.7,981.5 L81.0,995.5 L72.8,1004.8 L69.3,1009.5 L66.0,1012.0 L64.0,1019.0 L58.0,1019.0Z"/>
<path fill="#2b748e" d="M385.0,1030.0 C418.3,1023.3 551.7,986.7 585.0,1030.0 C618.3,1073.3 595.8,1246.7 585.0,1290.0 C574.2,1333.3 531.6,1294.4 520.0,1290.0 C508.4,1285.6 518.9,1270.9 515.6,1263.4 C512.3,1255.9 507.6,1250.1 500.0,1245.0 C492.4,1239.9 476.3,1238.0 470.0,1233.0 C463.7,1228.0 462.0,1223.8 462.0,1215.0 C462.0,1206.2 467.3,1189.2 470.0,1180.0 C472.7,1170.8 478.8,1165.8 478.0,1160.0 C477.2,1154.2 471.3,1150.3 465.0,1145.0 C458.7,1139.7 448.3,1133.5 440.0,1128.0 C431.7,1122.5 422.0,1117.5 415.0,1112.0 C408.0,1106.5 403.0,1102.0 398.0,1095.0 C393.0,1088.0 387.2,1080.8 385.0,1070.0 C382.8,1059.2 351.7,1036.7 385.0,1030.0Z"/>
<path fill="#3d4d8a" d="M100.0,1031.0 L109.6,1034.9 L149.3,1079.5 L189.0,1119.2 L228.8,1158.9 L263.5,1188.7 L283.4,1218.5 L288.3,1248.3 L288.3,1290.0 L330.0,1290.0 L330.0,1279.0 L335.1,1253.0 L350.9,1237.2 L371.9,1229.3 L376.0,1200.0 L375.2,1156.4 L363.5,1147.6 L346.0,1130.1 L325.5,1118.4 L305.1,1106.8 L281.8,1092.2 L258.4,1074.6 L238.0,1048.4 L230.0,1031.0Z"/>
<path fill="#453581" d="M58.0,1029.0 L100.0,1031.0 L109.6,1034.9 L149.3,1079.5 L189.0,1119.2 L228.8,1158.9 L263.5,1188.7 L283.4,1218.5 L288.3,1248.3 L288.3,1290.0 L58.0,1290.0Z"/>
<path fill="#481c6e" d="M58.0,1028.0 L80.0,1029.0 L99.7,1044.8 L125.7,1080.0 L146.7,1105.8 L170.4,1129.4 L191.4,1155.7 L212.4,1179.3 L233.7,1198.7 L248.6,1218.5 L256.1,1248.3 L258.0,1290.0 L58.0,1290.0Z"/>
<path fill="#440154" d="M58.0,1022.0 C60.0,980.0 67.3,1022.2 70.0,1023.0 C72.7,1023.8 73.0,1024.9 74.0,1027.0 C75.0,1029.1 72.9,1030.7 75.8,1035.6 C78.7,1040.5 86.7,1049.6 91.5,1056.6 C96.3,1063.6 101.2,1071.3 104.7,1077.7 C108.2,1084.1 109.5,1089.5 112.6,1095.0 C115.6,1100.5 119.5,1104.8 123.0,1111.0 C126.5,1117.2 130.5,1124.5 133.6,1132.0 C136.7,1139.5 139.4,1147.8 141.5,1155.7 C143.6,1163.6 145.2,1171.0 146.0,1179.3 C146.8,1187.6 147.2,1197.7 146.0,1205.6 C144.8,1213.5 142.6,1220.0 138.8,1226.6 C135.0,1233.2 129.1,1239.7 123.0,1245.0 C116.9,1250.3 109.0,1254.2 102.0,1258.2 C95.0,1262.2 86.2,1266.1 81.0,1268.7 C75.8,1271.3 74.3,1273.0 70.5,1274.0 C66.7,1275.0 60.1,1317.0 58.0,1275.0 C55.9,1233.0 56.0,1064.0 58.0,1022.0Z"/>
<path fill="#34618d" d="M376.0,1225.0 C400.6,1223.7 477.3,1224.8 498.8,1229.6 C520.3,1234.4 501.8,1245.9 504.9,1254.1 C507.9,1262.3 514.9,1272.6 517.1,1278.6 C519.3,1284.6 549.2,1288.1 518.0,1290.0 C486.8,1291.9 361.3,1291.8 330.0,1290.0 C298.7,1288.2 329.1,1285.2 330.0,1279.0 C330.9,1272.8 331.6,1260.0 335.1,1253.0 C338.6,1246.0 344.1,1241.9 350.9,1237.2 C357.7,1232.5 351.4,1226.3 376.0,1225.0Z"/>
<path fill="#34618d" d="M536.0,1170.0 C537.0,1161.4 538.7,1175.7 541.7,1180.5 C544.7,1185.3 552.3,1190.8 554.0,1199.0 C555.7,1207.2 555.0,1224.1 552.0,1229.6 C549.0,1235.1 538.7,1241.9 536.0,1232.0 C533.3,1222.1 535.0,1178.6 536.0,1170.0Z"/>
<path fill="#34618d" d="M214.2,916.0 C213.8,913.9 213.4,915.2 209.5,917.2 C205.6,919.2 197.4,924.0 190.8,927.7 C184.2,931.4 176.4,935.9 169.8,939.4 C163.2,942.9 157.7,944.5 151.1,948.8 C144.5,953.1 136.6,959.6 130.0,965.1 C123.4,970.6 117.2,976.8 111.4,981.5 C105.6,986.2 99.3,989.6 95.0,993.1 C90.7,996.6 87.2,1000.1 85.7,1002.5 C84.2,1004.9 82.2,1006.0 85.7,1007.2 C89.2,1008.4 95.4,1009.1 106.7,1009.5 C118.0,1009.9 139.4,1009.5 153.4,1009.5 C167.4,1009.5 183.0,1009.9 190.8,1009.5 C198.6,1009.1 199.4,1009.5 200.2,1007.2 C201.0,1004.9 197.1,999.8 195.5,995.5 C193.9,991.2 191.2,986.6 190.8,981.5 C190.4,976.4 191.2,970.6 193.1,965.1 C195.0,959.6 199.4,954.6 202.5,948.8 C205.6,942.9 209.9,935.5 211.8,930.0 C213.8,924.5 214.6,918.1 214.2,916.0Z"/>
<path fill="#2b748e" d="M100.0,999.0 C103.5,996.8 113.7,993.2 120.7,990.0 C127.7,986.8 136.7,984.5 141.8,980.0 C146.9,975.5 148.6,966.8 151.1,962.8 C153.6,958.8 154.3,956.2 157.0,955.8 C159.7,955.4 164.6,958.4 167.5,960.4 C170.4,962.4 172.6,964.0 174.5,967.5 C176.4,971.0 178.3,977.4 179.1,981.5 C179.9,985.6 181.4,988.8 179.1,992.0 C176.8,995.2 170.1,999.2 165.0,1001.0 C159.9,1002.8 156.2,1002.6 148.8,1003.0 C141.4,1003.4 128.9,1003.5 120.7,1003.5 C112.5,1003.5 103.2,1003.8 99.7,1003.0 C96.2,1002.2 96.5,1001.2 100.0,999.0Z"/>
<path fill="#2b748e" d="M306.7,967.5 C307.5,965.6 311.0,965.6 313.7,967.5 C316.4,969.4 321.1,975.6 323.0,979.1 C324.9,982.6 326.2,986.8 325.4,988.5 C324.6,990.2 321.1,991.2 318.4,989.6 C315.7,988.0 310.9,982.8 309.0,979.1 C307.1,975.4 305.9,969.4 306.7,967.5Z"/>
<path fill="#2b748e" d="M256.0,995.5 C258.3,993.0 269.5,983.5 272.4,981.5 C275.3,979.5 275.9,981.3 273.6,983.8 C271.3,986.3 261.3,994.6 258.4,996.6 C255.5,998.6 253.7,998.0 256.0,995.5Z"/>
<path fill="#2b748e" d="M453.9,971.2 C455.6,969.0 462.4,967.9 465.7,969.9 C469.0,971.9 472.7,978.8 473.6,983.0 C474.5,987.2 472.8,992.9 471.0,994.9 C469.2,996.9 465.6,996.9 463.0,994.9 C460.4,992.9 456.7,987.0 455.2,983.0 C453.7,979.0 452.1,973.4 453.9,971.2Z"/>
<path fill="#34618d" d="M84.8,1033.0 C89.8,1030.7 111.8,1031.3 130.0,1031.0 C148.2,1030.7 182.8,1027.8 194.0,1031.0 C205.2,1034.2 197.0,1044.4 197.0,1050.0 C197.0,1055.6 194.2,1057.9 194.0,1064.6 C193.8,1071.3 195.2,1080.9 196.0,1090.0 C196.8,1099.1 200.2,1113.9 199.0,1119.2 C197.8,1124.5 193.8,1123.6 189.0,1121.7 C184.2,1119.8 176.5,1113.3 170.0,1108.0 C163.5,1102.7 157.5,1097.2 150.0,1090.0 C142.5,1082.8 133.3,1072.5 125.0,1065.0 C116.7,1057.5 106.7,1050.3 100.0,1045.0 C93.3,1039.7 79.8,1035.3 84.8,1033.0Z"/>
<path fill="#2b748e" d="M106.0,1038.0 C110.7,1037.2 126.3,1037.0 133.6,1037.5 C140.9,1038.0 144.8,1038.9 150.0,1041.0 C155.2,1043.1 161.0,1047.0 165.0,1050.0 C169.0,1053.0 173.0,1056.0 174.0,1059.3 C175.0,1062.6 173.3,1067.2 171.0,1069.8 C168.7,1072.4 163.5,1075.0 159.9,1075.0 C156.3,1075.0 152.8,1072.9 149.3,1069.8 C145.8,1066.7 143.6,1060.6 138.8,1056.6 C134.0,1052.6 126.0,1048.3 120.4,1046.0 C114.8,1043.7 107.7,1043.8 105.3,1042.5 C102.9,1041.2 101.3,1038.8 106.0,1038.0Z"/>
<path fill="#34618d" d="M232.0,1031.0 C247.6,1028.1 314.3,1029.1 331.4,1031.0 C348.4,1032.9 334.1,1037.7 334.3,1042.5 C334.5,1047.3 332.3,1053.7 332.8,1060.0 C333.3,1066.3 334.0,1074.2 337.2,1080.5 C340.4,1086.8 345.9,1092.7 351.8,1098.0 C357.7,1103.3 364.3,1108.2 372.3,1112.6 C380.3,1117.0 390.4,1120.6 400.0,1124.3 C409.6,1128.0 420.8,1131.5 430.0,1135.0 C439.2,1138.5 448.3,1140.8 455.0,1145.0 C461.7,1149.2 468.3,1153.3 470.0,1160.0 C471.7,1166.7 480.7,1178.3 465.0,1185.0 C449.3,1191.7 391.0,1204.8 376.0,1200.0 C361.0,1195.2 377.3,1165.1 375.2,1156.4 C373.1,1147.7 368.4,1152.0 363.5,1147.6 C358.6,1143.2 352.3,1135.0 346.0,1130.1 C339.7,1125.2 332.3,1122.3 325.5,1118.4 C318.7,1114.5 312.4,1111.2 305.1,1106.8 C297.8,1102.4 289.6,1097.6 281.8,1092.2 C274.0,1086.8 265.7,1081.9 258.4,1074.6 C251.1,1067.3 242.4,1055.7 238.0,1048.4 C233.6,1041.1 216.4,1033.9 232.0,1031.0Z"/>
<path fill="#2b748e" d="M243.8,1039.5 C248.7,1038.7 268.6,1039.8 275.9,1040.5 C283.2,1041.2 279.8,1042.7 287.6,1043.4 C295.4,1044.1 316.3,1043.1 322.6,1044.9 C328.9,1046.7 326.5,1050.2 325.5,1054.2 C324.5,1058.2 320.7,1064.4 316.8,1068.8 C312.9,1073.2 305.6,1078.8 302.2,1080.5 C298.8,1082.2 299.8,1081.0 296.4,1079.0 C293.0,1077.0 288.1,1072.9 281.8,1068.8 C275.5,1064.7 264.2,1058.1 258.4,1054.2 C252.5,1050.3 249.1,1047.9 246.7,1045.4 C244.3,1043.0 238.9,1040.3 243.8,1039.5Z"/>
<path fill="#24878e" d="M448.2,1042.6 C451.8,1039.0 467.1,1040.0 471.2,1042.6 C475.3,1045.1 474.8,1053.3 472.7,1057.9 C470.6,1062.5 462.7,1069.2 458.9,1070.2 C455.1,1071.2 451.5,1068.6 449.7,1064.0 C447.9,1059.4 444.6,1046.2 448.2,1042.6Z"/>
<path d="M82,1021.5 L90,1008 L590,1008 L590,1035 L90,1035 Z" fill="#3d4d8a"/>
<path d="M77,1021.4 L85,1011 L590,1011 L590,1031.8 L85,1031.8 Z" fill="#453581"/>
<path d="M72,1021.0 L80,1013.6 L590,1013.6 L590,1028.3 L80,1028.3 Z" fill="#481c6e"/>
<path fill="#453581" d="M345.0,838.8 C350.7,837.9 354.0,838.9 356.1,841.5 C358.2,844.1 358.3,848.9 357.4,854.6 C356.5,860.3 354.6,868.6 350.9,875.6 C347.2,882.6 341.9,889.7 335.1,896.6 C328.3,903.5 317.9,911.6 310.0,917.0 C302.1,922.4 294.0,925.3 288.0,929.0 C282.0,932.7 278.7,935.3 274.0,939.4 C269.3,943.5 264.3,949.0 260.0,953.4 C255.7,957.8 251.7,961.6 248.0,966.0 C244.3,970.4 240.7,975.2 238.0,980.0 C235.3,984.8 233.3,990.8 232.0,995.0 C230.7,999.2 230.0,1002.2 230.0,1005.0 C230.0,1007.8 237.3,1010.8 232.0,1012.0 C226.7,1013.2 203.8,1014.0 198.0,1012.0 C192.2,1010.0 196.7,1004.5 197.0,1000.0 C197.3,995.5 198.7,989.7 200.0,985.0 C201.3,980.3 202.5,976.5 205.0,972.0 C207.5,967.5 210.8,962.7 215.0,958.0 C219.2,953.3 225.3,949.0 230.0,944.0 C234.7,939.0 238.7,933.9 243.1,928.2 C247.5,922.5 251.4,916.3 256.3,909.8 C261.2,903.3 267.0,895.8 272.6,889.3 C278.2,882.8 285.3,875.4 290.0,870.9 C294.7,866.4 295.7,866.0 301.0,862.0 C306.3,858.0 314.7,850.6 322.0,846.7 C329.3,842.8 339.3,839.7 345.0,838.8Z"/>
<path fill="#481c6e" d="M200.0,969.8 C203.4,963.7 211.7,958.5 218.7,953.4 C225.7,948.3 235.0,942.9 242.0,939.4 C249.0,935.9 256.6,932.8 260.7,932.4 C264.8,932.0 265.8,933.5 266.6,937.0 C267.4,940.5 267.2,948.3 265.4,953.4 C263.6,958.5 260.3,962.8 256.0,967.5 C251.7,972.2 244.4,977.6 239.7,981.5 C235.0,985.4 230.3,987.7 228.0,990.8 C225.7,993.9 226.0,997.3 225.7,1000.2 C225.4,1003.1 225.6,1005.7 226.0,1008.0 C226.4,1010.3 232.3,1013.0 228.0,1014.0 C223.7,1015.0 204.7,1015.5 200.0,1014.0 C195.3,1012.5 200.3,1009.0 200.0,1005.0 C199.7,1001.0 198.0,995.9 198.0,990.0 C198.0,984.1 196.6,975.9 200.0,969.8Z"/>
<path fill="#440154" d="M203.9,989.2 C204.7,988.2 206.8,986.5 209.2,985.7 C211.6,984.9 215.7,984.7 218.5,984.5 C221.3,984.3 224.6,983.7 226.1,984.5 C227.6,985.3 227.6,987.1 227.3,989.2 C227.0,991.4 225.7,994.9 224.4,997.4 C223.1,999.9 220.7,1002.3 219.7,1004.4 C218.7,1006.5 218.7,1008.3 218.5,1010.2 C218.3,1012.1 219.8,1015.0 218.5,1016.0 C217.2,1017.0 211.7,1017.2 210.4,1016.0 C209.2,1014.8 211.3,1011.9 211.0,1009.0 C210.7,1006.1 209.7,1001.4 208.6,998.5 C207.5,995.6 205.3,993.0 204.5,991.5 C203.7,990.0 203.1,990.2 203.9,989.2Z"/>
<path fill="#3d4d8a" d="M337.0,1005.0 C327.8,1002.5 334.7,996.3 334.7,990.8 C334.7,985.3 334.6,978.3 337.0,972.1 C339.4,965.9 344.1,959.6 348.8,953.4 C353.5,947.2 359.3,940.5 365.1,934.7 C370.9,928.9 378.0,923.5 383.8,918.4 C389.6,913.3 393.8,909.2 400.0,904.0 C406.2,898.8 413.1,890.7 421.0,887.3 C428.9,883.9 440.3,882.9 447.3,883.4 C454.3,883.9 460.1,886.3 463.0,890.0 C465.9,893.7 465.3,899.6 464.4,905.7 C463.5,911.8 461.5,919.2 457.8,926.7 C454.1,934.2 447.7,943.0 442.0,950.4 C436.3,957.8 428.9,965.7 423.6,971.4 C418.4,977.1 414.4,980.6 410.5,984.5 C406.6,988.4 402.9,991.6 400.0,995.0 C397.1,998.4 394.7,1003.2 393.0,1005.0 C391.3,1006.8 399.3,1006.0 390.0,1006.0 C380.7,1006.0 346.2,1007.5 337.0,1005.0Z"/>
<path fill="#453581" d="M342.0,1010.0 C335.7,1008.3 340.8,1003.2 340.0,1000.0 C339.2,996.8 336.2,995.0 337.0,990.8 C337.8,986.6 341.5,979.7 345.0,975.0 C348.5,970.3 353.9,967.0 358.1,962.8 C362.3,958.6 365.7,954.3 370.0,950.0 C374.3,945.7 378.8,942.0 383.8,937.1 C388.8,932.2 394.9,925.5 400.2,920.7 C405.5,915.9 410.1,911.2 415.8,908.3 C421.5,905.4 429.4,903.1 434.2,903.1 C439.0,903.1 442.7,905.7 444.7,908.3 C446.7,910.9 446.9,914.4 446.0,918.8 C445.1,923.2 442.7,929.3 439.4,934.6 C436.1,939.9 431.1,945.1 426.3,950.4 C421.5,955.6 414.9,961.7 410.5,966.1 C406.1,970.5 403.8,973.0 400.0,976.6 C396.2,980.2 391.3,984.1 388.0,988.0 C384.7,991.9 381.7,996.3 380.0,1000.0 C378.3,1003.7 384.3,1008.3 378.0,1010.0 C371.7,1011.7 348.3,1011.7 342.0,1010.0Z"/>
<path fill="#481c6e" d="M344.0,983.8 C345.2,979.5 351.5,977.1 355.0,974.0 C358.5,970.9 359.1,969.7 365.1,965.1 C371.1,960.5 384.6,950.3 390.8,946.4 C397.0,942.5 400.1,942.0 402.5,941.8 C404.9,941.6 405.1,942.4 405.3,945.1 C405.6,947.8 407.2,953.7 404.0,958.2 C400.8,962.7 391.0,967.5 386.1,972.1 C381.2,976.8 376.9,981.5 374.5,986.1 C372.1,990.8 372.6,995.4 372.0,1000.0 C371.4,1004.6 374.7,1011.7 371.0,1014.0 C367.3,1016.3 353.8,1016.3 350.0,1014.0 C346.2,1011.7 349.0,1005.0 348.0,1000.0 C347.0,995.0 342.8,988.1 344.0,983.8Z"/>
<path fill="#440154" d="M348.4,989.8 C349.5,987.8 353.1,983.9 355.4,982.2 C357.7,980.6 359.9,980.1 362.4,979.9 C364.9,979.7 368.8,979.8 370.5,981.0 C372.2,982.2 372.7,984.9 372.9,986.9 C373.1,988.9 372.9,990.6 371.7,992.7 C370.5,994.8 367.4,997.6 365.9,999.7 C364.3,1001.8 363.0,1002.8 362.4,1005.5 C361.8,1008.2 363.5,1014.2 362.4,1016.0 C361.3,1017.8 357.1,1017.5 356.0,1016.0 C354.9,1014.5 356.5,1009.6 356.0,1006.7 C355.5,1003.8 354.2,1000.6 353.0,998.5 C351.8,996.4 349.8,995.4 349.0,993.9 C348.2,992.4 347.3,991.8 348.4,989.8Z"/>
<path fill="#3d4d8a" d="M479.0,985.0 C479.8,980.3 481.5,973.6 485.0,970.0 C488.5,966.4 494.8,965.1 500.0,963.5 C505.2,961.9 510.6,962.7 516.0,960.3 C521.4,957.9 526.7,953.3 532.1,949.0 C537.5,944.7 542.3,938.6 548.2,934.6 C554.1,930.6 561.3,927.4 567.4,925.0 C573.5,922.6 582.1,916.2 585.0,920.0 C587.9,923.8 587.9,942.8 585.0,948.0 C582.1,953.2 573.6,948.4 567.4,951.0 C561.2,953.6 553.4,959.5 548.0,963.5 C542.6,967.5 537.8,970.6 535.0,975.0 C532.2,979.4 532.8,985.2 531.0,990.0 C529.2,994.8 525.8,1000.3 524.0,1004.0 C522.2,1007.7 526.3,1010.7 520.0,1012.0 C513.7,1013.3 492.7,1014.3 486.0,1012.0 C479.3,1009.7 481.2,1002.5 480.0,998.0 C478.8,993.5 478.2,989.7 479.0,985.0Z"/>
<path fill="#453581" d="M485.0,986.0 C485.8,981.7 488.2,977.0 492.0,974.0 C495.8,971.0 503.0,968.7 508.0,968.0 C513.0,967.3 518.5,967.8 522.0,970.0 C525.5,972.2 528.2,977.2 529.0,981.0 C529.8,984.8 528.7,989.2 527.0,993.0 C525.3,996.8 520.8,1000.8 519.0,1004.0 C517.2,1007.2 520.2,1010.7 516.0,1012.0 C511.8,1013.3 498.8,1014.0 494.0,1012.0 C489.2,1010.0 488.5,1004.3 487.0,1000.0 C485.5,995.7 484.2,990.3 485.0,986.0Z"/>
<path fill="#481c6e" d="M491.0,988.2 C491.5,985.3 491.6,983.1 494.6,980.9 C497.6,978.7 505.1,975.7 509.2,975.0 C513.3,974.3 517.0,975.0 519.4,976.5 C521.8,978.0 523.3,981.4 523.8,983.8 C524.3,986.2 524.0,988.2 522.3,991.1 C520.6,994.0 515.8,998.4 513.6,1001.3 C511.4,1004.2 509.7,1006.1 509.2,1008.6 C508.7,1011.1 512.4,1014.8 510.7,1016.0 C509.0,1017.2 501.4,1017.7 499.0,1016.0 C496.6,1014.3 497.2,1008.6 496.0,1005.7 C494.8,1002.8 492.5,1001.3 491.7,998.4 C490.9,995.5 490.5,991.1 491.0,988.2Z"/>
<path fill="#34618d" d="M515.0,1011.0 C511.8,1009.5 515.0,1006.5 518.0,1002.0 C521.0,997.5 527.8,990.0 533.0,984.0 C538.2,978.0 543.2,971.7 549.0,966.0 C554.8,960.3 559.9,954.7 567.6,950.0 C575.3,945.3 588.8,940.0 595.0,938.0 C601.2,936.0 603.3,925.8 605.0,938.0 C606.7,950.2 606.7,998.8 605.0,1011.0 C603.3,1023.2 601.2,1011.0 595.0,1011.0 C588.8,1011.0 573.6,1011.0 567.6,1011.0 C561.6,1011.0 563.9,1011.0 558.8,1011.0 C553.7,1011.0 544.3,1011.0 537.0,1011.0 C529.7,1011.0 518.2,1012.5 515.0,1011.0Z"/>
<path fill="#2b748e" d="M517.1,1010.0 C514.1,1008.5 517.0,1005.5 519.9,1001.2 C522.8,996.8 529.5,989.7 534.6,984.0 C539.6,978.3 544.5,972.3 550.1,966.9 C555.7,961.5 560.6,956.0 568.0,951.5 C575.5,947.0 588.6,941.8 594.7,939.8 C600.8,937.9 603.0,928.1 604.7,939.8 C606.4,951.5 606.4,998.3 604.7,1010.0 C603.0,1021.7 600.9,1010.0 594.7,1010.0 C588.5,1010.0 573.6,1010.0 567.6,1010.1 C561.6,1010.1 563.8,1010.3 558.8,1010.3 C553.8,1010.4 544.8,1010.3 537.9,1010.2 C530.9,1010.2 520.1,1011.5 517.1,1010.0Z"/>
<path fill="#24878e" d="M520.3,1008.4 C517.6,1006.9 520.1,1003.9 522.9,999.9 C525.7,995.8 532.1,989.2 537.0,984.0 C541.8,978.7 546.6,973.3 551.9,968.3 C557.2,963.3 561.7,958.1 568.7,953.8 C575.8,949.6 588.3,944.5 594.2,942.6 C600.1,940.7 602.6,931.7 604.2,942.6 C605.9,953.6 605.9,997.4 604.2,1008.4 C602.6,1019.3 600.3,1008.3 594.2,1008.4 C588.1,1008.4 573.5,1008.5 567.6,1008.6 C561.7,1008.8 563.5,1009.2 558.8,1009.3 C554.1,1009.4 545.7,1009.2 539.2,1009.1 C532.8,1008.9 523.0,1009.9 520.3,1008.4Z"/>
<path fill="#1f998a" d="M524.1,1006.5 C521.7,1004.9 523.9,1002.1 526.5,998.3 C529.1,994.6 535.3,988.7 539.9,983.9 C544.4,979.2 549.0,974.5 553.9,970.0 C558.9,965.4 562.9,960.6 569.5,956.7 C576.2,952.7 588.0,947.8 593.7,946.0 C599.4,944.2 602.0,935.9 603.7,946.0 C605.3,956.1 605.3,996.4 603.7,1006.5 C602.0,1016.6 599.7,1006.4 593.7,1006.5 C587.7,1006.5 573.4,1006.6 567.6,1006.9 C561.8,1007.1 563.3,1007.9 558.8,1008.0 C554.3,1008.2 546.6,1007.9 540.9,1007.6 C535.1,1007.4 526.5,1008.0 524.1,1006.5Z"/>
<path fill="#25ac82" d="M528.5,1004.3 C526.4,1002.8 528.1,1000.0 530.6,996.6 C533.0,993.2 538.8,988.0 543.1,983.9 C547.4,979.8 551.7,975.9 556.3,971.8 C560.9,967.8 564.3,963.5 570.5,959.8 C576.6,956.1 587.6,951.4 593.0,949.8 C598.5,948.1 601.4,940.7 603.0,949.8 C604.7,958.9 604.7,995.2 603.0,1004.3 C601.4,1013.4 598.9,1004.2 593.0,1004.3 C587.1,1004.4 573.3,1004.5 567.6,1004.9 C561.9,1005.3 563.0,1006.5 558.8,1006.6 C554.6,1006.8 547.7,1006.4 542.7,1006.1 C537.6,1005.7 530.5,1005.9 528.5,1004.3Z"/>
<path fill="#40bd72" d="M533.2,1002.0 C531.6,1000.4 532.7,997.7 535.0,994.7 C537.2,991.7 542.7,987.4 546.7,983.9 C550.7,980.4 554.7,977.3 558.9,973.9 C563.0,970.5 565.9,966.6 571.5,963.3 C577.1,959.9 587.2,955.5 592.3,953.9 C597.5,952.3 600.7,945.9 602.3,953.9 C604.0,961.9 604.0,994.0 602.3,1002.0 C600.7,1010.0 598.1,1001.9 592.3,1002.0 C586.6,1002.1 573.2,1002.3 567.6,1002.8 C562.0,1003.3 562.6,1004.9 558.8,1005.1 C555.0,1005.4 549.0,1004.8 544.7,1004.3 C540.4,1003.8 534.8,1003.6 533.2,1002.0Z"/>
<path fill="#67cc5c" d="M538.3,999.5 C537.1,997.8 537.7,995.2 539.7,992.6 C541.7,990.0 546.8,986.6 550.5,983.9 C554.1,981.1 557.9,978.9 561.6,976.1 C565.3,973.3 567.6,969.9 572.6,967.0 C577.5,964.0 586.8,959.8 591.6,958.3 C596.5,956.9 599.9,951.5 601.6,958.3 C603.3,965.2 603.3,992.6 601.6,999.5 C599.9,1006.3 597.3,999.3 591.6,999.5 C585.9,999.6 573.1,999.8 567.6,1000.5 C562.1,1001.2 562.3,1003.1 558.8,1003.5 C555.3,1003.8 550.3,1003.1 546.8,1002.5 C543.4,1001.8 539.4,1001.1 538.3,999.5Z"/>
<path fill="#98d83e" d="M543.6,996.8 C542.9,995.1 542.9,992.6 544.7,990.5 C546.5,988.3 551.2,985.8 554.5,983.8 C557.8,981.8 561.3,980.6 564.5,978.4 C567.7,976.3 569.3,973.4 573.7,970.9 C578.1,968.3 586.3,964.4 590.8,963.1 C595.3,961.7 599.2,957.4 600.8,963.1 C602.5,968.7 602.5,991.2 600.8,996.8 C599.2,1002.4 596.4,996.6 590.8,996.8 C585.3,997.0 572.9,997.2 567.6,998.1 C562.3,998.9 561.9,1001.3 558.8,1001.7 C555.7,1002.1 551.6,1001.3 549.1,1000.5 C546.6,999.7 544.4,998.5 543.6,996.8Z"/>
<path fill="#cde11d" d="M549.3,994.0 C549.0,992.3 548.4,989.9 550.0,988.2 C551.6,986.5 555.9,985.0 558.8,983.8 C561.7,982.6 564.9,982.4 567.6,980.9 C570.3,979.4 571.2,977.1 574.9,975.0 C578.6,972.9 585.8,969.2 590.0,968.0 C594.2,966.8 598.3,963.7 600.0,968.0 C601.7,972.3 601.7,989.7 600.0,994.0 C598.3,998.3 595.4,993.8 590.0,994.0 C584.6,994.2 572.8,994.5 567.6,995.5 C562.4,996.5 561.5,999.4 558.8,999.9 C556.1,1000.4 553.1,999.4 551.5,998.4 C549.9,997.4 549.5,995.7 549.3,994.0Z"/>
<path fill="#453581" d="M200.0,1026.0 C204.0,1016.0 219.6,1020.8 224.0,1026.0 C228.4,1031.2 222.0,1049.0 226.3,1057.1 C230.6,1065.2 242.3,1068.8 249.6,1074.6 C256.9,1080.4 263.7,1086.3 270.0,1092.2 C276.3,1098.1 282.2,1103.4 287.6,1109.7 C293.0,1116.0 297.8,1123.8 302.2,1130.1 C306.6,1136.4 311.0,1142.2 313.9,1147.6 C316.8,1152.9 319.2,1158.8 319.7,1162.2 C320.2,1165.6 318.8,1167.4 316.8,1168.1 C314.9,1168.8 312.4,1168.5 308.0,1166.6 C303.6,1164.6 297.8,1161.5 290.5,1156.4 C283.2,1151.3 272.9,1143.3 264.2,1136.0 C255.4,1128.7 246.3,1119.4 238.0,1112.6 C229.7,1105.8 220.9,1099.5 214.6,1095.1 C208.3,1090.7 202.4,1097.8 200.0,1086.3 C197.6,1074.8 196.0,1036.0 200.0,1026.0Z"/>
<path fill="#481c6e" d="M200.0,1026.0 C203.7,1018.9 217.9,1020.8 222.0,1026.0 C226.1,1031.2 222.1,1048.5 224.8,1057.1 C227.5,1065.7 233.4,1072.0 238.0,1077.6 C242.6,1083.2 249.7,1087.8 252.6,1090.7 C255.5,1093.6 256.5,1094.0 255.5,1095.0 C254.5,1096.0 251.1,1098.0 246.7,1096.5 C242.3,1095.0 235.0,1090.0 229.2,1086.3 C223.4,1082.6 216.6,1077.5 211.7,1074.6 C206.8,1071.7 201.9,1076.9 200.0,1068.8 C198.1,1060.7 196.3,1033.1 200.0,1026.0Z"/>
<path fill="#440154" d="M207.0,1022.0 C209.5,1020.7 219.5,1020.7 222.0,1022.0 C224.5,1023.3 221.8,1027.1 222.0,1030.0 C222.2,1032.9 222.4,1037.1 223.2,1039.4 C224.0,1041.8 225.9,1041.2 226.7,1044.1 C227.5,1047.0 228.3,1054.3 227.9,1057.0 C227.5,1059.7 226.0,1060.0 224.4,1060.4 C222.8,1060.8 221.0,1060.5 218.5,1059.3 C216.0,1058.1 211.7,1055.2 209.2,1053.4 C206.7,1051.7 204.4,1050.0 203.4,1048.8 C202.4,1047.6 202.8,1047.8 203.4,1046.4 C204.0,1045.0 206.3,1043.3 206.9,1040.6 C207.5,1037.9 206.9,1033.1 206.9,1030.0 C206.9,1026.9 204.5,1023.3 207.0,1022.0Z"/>
<path fill="#3d4d8a" d="M334.0,1028.0 C344.4,1022.7 382.3,1022.7 395.0,1028.0 C407.7,1033.3 402.5,1049.7 410.0,1060.0 C417.5,1070.3 431.7,1080.8 440.0,1090.0 C448.3,1099.2 455.0,1107.5 460.0,1115.0 C465.0,1122.5 470.0,1130.0 470.0,1135.0 C470.0,1140.0 466.4,1145.1 460.0,1145.0 C453.6,1144.9 441.2,1137.9 431.3,1134.6 C421.4,1131.3 410.9,1128.5 400.7,1125.4 C390.5,1122.3 378.1,1120.8 370.0,1116.2 C361.9,1111.6 357.3,1104.0 351.8,1098.0 C346.3,1092.0 340.4,1086.8 337.2,1080.5 C334.0,1074.2 333.3,1068.8 332.8,1060.0 C332.3,1051.2 323.6,1033.3 334.0,1028.0Z"/>
<path fill="#453581" d="M340.0,1028.0 C346.3,1024.1 370.5,1024.3 378.0,1028.0 C385.5,1031.7 380.5,1043.3 385.0,1050.0 C389.5,1056.7 397.5,1061.3 405.0,1068.0 C412.5,1074.7 423.3,1083.3 430.0,1090.0 C436.7,1096.7 443.3,1104.3 445.0,1108.0 C446.7,1111.7 445.8,1112.7 440.0,1112.0 C434.2,1111.3 418.4,1105.8 410.0,1104.0 C401.6,1102.2 396.6,1103.4 389.8,1100.9 C383.0,1098.4 375.6,1094.1 369.3,1089.2 C363.0,1084.3 356.7,1078.0 351.8,1071.7 C346.9,1065.4 342.1,1058.6 340.1,1051.3 C338.1,1044.0 333.7,1031.9 340.0,1028.0Z"/>
<path fill="#481c6e" d="M352.0,1026.0 C354.4,1019.8 368.6,1022.8 372.0,1026.0 C375.4,1029.2 370.8,1039.3 372.3,1045.0 C373.8,1050.7 377.6,1054.5 381.0,1060.0 C384.4,1065.5 390.5,1073.6 392.7,1078.0 C394.9,1082.4 395.2,1085.1 394.2,1086.3 C393.2,1087.5 391.0,1086.9 386.9,1084.9 C382.8,1083.0 374.2,1078.2 369.3,1074.6 C364.4,1070.9 360.6,1071.1 357.7,1063.0 C354.8,1054.9 349.6,1032.2 352.0,1026.0Z"/>
<path fill="#440154" d="M351.9,1022.0 C354.4,1020.7 364.5,1020.7 367.0,1022.0 C369.5,1023.3 367.1,1027.7 367.0,1030.0 C366.9,1032.3 366.3,1033.9 366.5,1035.9 C366.7,1037.9 367.5,1039.7 368.2,1041.8 C368.9,1043.9 370.0,1045.9 370.5,1048.8 C371.0,1051.7 371.5,1057.4 371.1,1059.3 C370.7,1061.2 369.9,1061.2 368.2,1060.4 C366.5,1059.6 363.5,1055.9 361.2,1054.6 C358.9,1053.2 356.1,1053.3 354.2,1052.3 C352.2,1051.3 350.4,1049.8 349.5,1048.8 C348.6,1047.8 348.8,1048.0 349.0,1046.4 C349.2,1044.8 350.2,1042.1 350.7,1039.4 C351.2,1036.7 351.7,1032.9 351.9,1030.0 C352.1,1027.1 349.4,1023.3 351.9,1022.0Z"/>
<path fill="#3d4d8a" d="M479.0,1028.0 C486.5,1023.0 520.5,1022.8 530.0,1028.0 C539.5,1033.2 533.0,1050.8 535.9,1059.2 C538.8,1067.6 543.6,1072.9 547.6,1078.2 C551.6,1083.5 557.6,1086.5 560.0,1091.3 C562.4,1096.1 563.6,1105.0 562.0,1107.0 C560.4,1109.0 554.9,1105.6 550.5,1103.0 C546.1,1100.4 540.8,1096.2 535.9,1091.3 C531.0,1086.4 527.3,1077.3 521.3,1073.8 C515.3,1070.2 506.1,1072.6 500.0,1070.0 C493.9,1067.4 488.5,1065.0 485.0,1058.0 C481.5,1051.0 471.5,1033.0 479.0,1028.0Z"/>
<path fill="#453581" d="M485.0,1027.0 C490.7,1022.3 517.2,1021.7 524.0,1027.0 C530.8,1032.3 526.2,1051.7 525.7,1059.0 C525.2,1066.3 524.0,1069.5 521.0,1071.0 C518.0,1072.5 513.2,1070.7 508.0,1068.0 C502.8,1065.3 493.8,1061.8 490.0,1055.0 C486.2,1048.2 479.3,1031.7 485.0,1027.0Z"/>
<path fill="#481c6e" d="M489.0,1025.0 C493.0,1020.8 513.0,1021.7 518.0,1025.0 C523.0,1028.3 519.3,1038.7 519.0,1045.0 C518.7,1051.3 518.3,1060.0 516.0,1063.0 C513.7,1066.0 508.7,1065.2 505.0,1063.0 C501.3,1060.8 496.7,1056.3 494.0,1050.0 C491.3,1043.7 485.0,1029.2 489.0,1025.0Z"/>
<path fill="#440154" d="M494.6,1022.0 C497.3,1020.1 510.7,1019.9 513.6,1022.0 C516.5,1024.2 512.8,1031.5 512.1,1034.9 C511.4,1038.3 510.9,1041.0 509.2,1042.2 C507.5,1043.4 503.8,1043.7 501.9,1042.2 C499.9,1040.7 498.7,1036.8 497.5,1033.4 C496.3,1030.0 491.9,1023.9 494.6,1022.0Z"/>
<path fill="#24878e" d="M526.0,1028.0 C535.5,1023.3 575.2,1016.7 585.0,1027.0 C594.8,1037.3 589.2,1080.2 585.0,1090.0 C580.8,1099.8 567.5,1088.3 560.0,1086.0 C552.5,1083.7 545.3,1081.2 540.0,1076.0 C534.7,1070.8 530.3,1063.0 528.0,1055.0 C525.7,1047.0 516.5,1032.7 526.0,1028.0Z"/>
<path fill="#1f998a" d="M537.2,1032.8 C544.0,1029.6 571.5,1025.3 578.5,1032.1 C585.6,1038.9 582.0,1066.8 579.4,1073.6 C576.8,1080.4 568.3,1074.1 562.8,1073.0 C557.4,1071.9 550.9,1070.6 546.7,1067.1 C542.5,1063.5 539.3,1057.4 537.7,1051.7 C536.1,1045.9 530.4,1036.1 537.2,1032.8Z"/>
<path fill="#25ac82" d="M546.8,1037.0 C551.3,1035.0 568.3,1032.8 572.9,1036.5 C577.5,1040.2 575.9,1055.3 574.6,1059.5 C573.3,1063.7 569.0,1061.7 565.3,1061.7 C561.6,1061.7 555.7,1061.5 552.5,1059.3 C549.3,1057.2 547.0,1052.5 546.1,1048.8 C545.1,1045.0 542.3,1039.1 546.8,1037.0Z"/>
<path fill="#40bd72" d="M556.0,1041.0 C558.3,1040.1 565.3,1039.9 567.6,1040.7 C569.9,1041.5 570.0,1044.3 570.0,1046.0 C570.0,1047.7 569.6,1050.0 567.6,1051.0 C565.6,1052.0 560.3,1052.8 558.0,1052.0 C555.7,1051.2 554.3,1047.8 554.0,1046.0 C553.7,1044.2 553.7,1041.9 556.0,1041.0Z"/>
<path d="M60,1020.5 L68,1016.2 L590,1016.2 L590,1025.3 L68,1025.3 Z" fill="#440154"/>
<path d="M66,1017.3 L103,1018.4 L66,1019.6Z" fill="#fff"/>
<line x1="103" y1="1018.3" x2="393" y2="1018.3" stroke="#3a3a44" stroke-width="1.1" stroke-dasharray="5,2.2"/>
<rect x="66" y="1023.2" width="520" height="1.2" fill="#111"/>
</g>
<line x1="576.3" y1="766.0" x2="576.3" y2="1279" stroke="#333" stroke-width="0.9" stroke-dasharray="1.5,1.5"/>
<rect x="567.5" y="772.6" width="115.5" height="355.9" fill="none" stroke="#262626" stroke-width="1.2"/>
<rect x="577" y="795.40" width="30.2" height="12.00" fill="#fde725"/>
<rect x="577" y="807.40" width="30.2" height="24.08" fill="#cde11d"/>
<rect x="577" y="831.48" width="30.2" height="24.08" fill="#98d83e"/>
<rect x="577" y="855.56" width="30.2" height="24.08" fill="#67cc5c"/>
<rect x="577" y="879.64" width="30.2" height="24.08" fill="#40bd72"/>
<rect x="577" y="903.72" width="30.2" height="24.08" fill="#25ac82"/>
<rect x="577" y="927.80" width="30.2" height="24.08" fill="#1f998a"/>
<rect x="577" y="951.88" width="30.2" height="24.08" fill="#24878e"/>
<rect x="577" y="975.96" width="30.2" height="24.08" fill="#2b748e"/>
<rect x="577" y="1000.04" width="30.2" height="24.08" fill="#34618d"/>
<rect x="577" y="1024.12" width="30.2" height="24.08" fill="#3d4d8a"/>
<rect x="577" y="1048.20" width="30.2" height="24.08" fill="#453581"/>
<rect x="577" y="1072.28" width="30.2" height="24.08" fill="#481c6e"/>
<rect x="577" y="1096.36" width="30.2" height="12.00" fill="#440154"/>
<rect x="577" y="806.90" width="30.2" height="1" fill="#1a1a1a"/>
<rect x="577" y="830.98" width="30.2" height="1" fill="#1a1a1a"/>
<rect x="577" y="855.06" width="30.2" height="1" fill="#1a1a1a"/>
<rect x="577" y="879.14" width="30.2" height="1" fill="#1a1a1a"/>
<rect x="577" y="903.22" width="30.2" height="1" fill="#1a1a1a"/>
<rect x="577" y="927.30" width="30.2" height="1" fill="#1a1a1a"/>
<rect x="577" y="951.38" width="30.2" height="1" fill="#1a1a1a"/>
<rect x="577" y="975.46" width="30.2" height="1" fill="#1a1a1a"/>
<rect x="577" y="999.54" width="30.2" height="1" fill="#1a1a1a"/>
<rect x="577" y="1023.62" width="30.2" height="1" fill="#1a1a1a"/>
<rect x="577" y="1047.70" width="30.2" height="1" fill="#1a1a1a"/>
<rect x="577" y="1071.78" width="30.2" height="1" fill="#1a1a1a"/>
<rect x="577" y="1095.86" width="30.2" height="1" fill="#1a1a1a"/>
<text x="621.9" y="816.7" font-family='"Liberation Sans", sans-serif' font-size="20.5">0.013</text>
<text x="621.9" y="840.8" font-family='"Liberation Sans", sans-serif' font-size="20.5">0.012</text>
<text x="621.9" y="864.9" font-family='"Liberation Sans", sans-serif' font-size="20.5">0.011</text>
<text x="621.9" y="888.9" font-family='"Liberation Sans", sans-serif' font-size="20.5">0.01</text>
<text x="621.9" y="913.0" font-family='"Liberation Sans", sans-serif' font-size="20.5">0.009</text>
<text x="621.9" y="937.1" font-family='"Liberation Sans", sans-serif' font-size="20.5">0.008</text>
<text x="621.9" y="961.2" font-family='"Liberation Sans", sans-serif' font-size="20.5">0.007</text>
<text x="621.9" y="985.3" font-family='"Liberation Sans", sans-serif' font-size="20.5">0.006</text>
<text x="621.9" y="1009.3" font-family='"Liberation Sans", sans-serif' font-size="20.5">0.005</text>
<text x="621.9" y="1033.4" font-family='"Liberation Sans", sans-serif' font-size="20.5">0.004</text>
<text x="621.9" y="1057.5" font-family='"Liberation Sans", sans-serif' font-size="20.5">0.003</text>
<text x="621.9" y="1081.6" font-family='"Liberation Sans", sans-serif' font-size="20.5">0.002</text>
<text x="621.9" y="1105.7" font-family='"Liberation Sans", sans-serif' font-size="20.5">0.001</text>
<rect x="64.4" y="765.8" width="2.6" height="515.4000000000001" fill="#000"/>
<rect x="64.8" y="1278.8" width="564.2" height="2.4" fill="#000"/>
<rect x="66" y="766.5" width="12.8" height="2.8" fill="#000"/>
<rect x="66" y="792.9" width="5.6" height="1.3" fill="#000"/>
<rect x="66" y="818.5" width="5.6" height="1.3" fill="#000"/>
<rect x="66" y="844.1" width="5.6" height="1.3" fill="#000"/>
<rect x="66" y="869.7" width="5.6" height="1.3" fill="#000"/>
<rect x="66" y="894.6" width="12.8" height="2.8" fill="#000"/>
<rect x="66" y="920.9" width="5.6" height="1.3" fill="#000"/>
<rect x="66" y="946.6" width="5.6" height="1.3" fill="#000"/>
<rect x="66" y="972.2" width="5.6" height="1.3" fill="#000"/>
<rect x="66" y="997.8" width="5.6" height="1.3" fill="#000"/>
<rect x="66" y="1022.6" width="12.8" height="2.8" fill="#000"/>
<rect x="66" y="1049.0" width="5.6" height="1.3" fill="#000"/>
<rect x="66" y="1074.6" width="5.6" height="1.3" fill="#000"/>
<rect x="66" y="1100.2" width="5.6" height="1.3" fill="#000"/>
<rect x="66" y="1125.9" width="5.6" height="1.3" fill="#000"/>
<rect x="66" y="1150.7" width="12.8" height="2.8" fill="#000"/>
<rect x="66" y="1177.1" width="5.6" height="1.3" fill="#000"/>
<rect x="66" y="1202.7" width="5.6" height="1.3" fill="#000"/>
<rect x="66" y="1228.3" width="5.6" height="1.3" fill="#000"/>
<rect x="66" y="1253.9" width="5.6" height="1.3" fill="#000"/>
<rect x="66" y="1278.8" width="12.8" height="2.8" fill="#000"/>
<rect x="64.3" y="1266.5" width="2.9" height="12.3" fill="#000"/>
<rect x="116.3" y="1273.2" width="1.3" height="5.6" fill="#000"/>
<rect x="167.7" y="1273.2" width="1.3" height="5.6" fill="#000"/>
<rect x="218.9" y="1273.2" width="1.3" height="5.6" fill="#000"/>
<rect x="270.2" y="1273.2" width="1.3" height="5.6" fill="#000"/>
<rect x="320.8" y="1266.5" width="2.9" height="12.3" fill="#000"/>
<rect x="372.8" y="1273.2" width="1.3" height="5.6" fill="#000"/>
<rect x="424.1" y="1273.2" width="1.3" height="5.6" fill="#000"/>
<rect x="475.4" y="1273.2" width="1.3" height="5.6" fill="#000"/>
<rect x="526.8" y="1273.2" width="1.3" height="5.6" fill="#000"/>
<rect x="577.3" y="1266.5" width="2.9" height="12.3" fill="#000"/>
<text x="294.2" y="746.6" text-anchor="middle" font-family='"Liberation Sans", sans-serif' font-weight="bold" font-size="32.5">Shear Slip</text>
<text x="66" y="1300.2" text-anchor="middle" font-family='"Liberation Sans", sans-serif' font-size="20.6">0</text>
<text x="322.7" y="1300.2" text-anchor="middle" font-family='"Liberation Sans", sans-serif' font-size="20.6">1E-05</text>
<text x="577.7" y="1300.2" text-anchor="middle" font-family='"Liberation Sans", sans-serif' font-size="20.6">2E-05</text>
<text transform="translate(65,770.5999999999999) rotate(-60)" x="0" y="0" text-anchor="end" font-family='"Liberation Sans", sans-serif' font-size="20.5">2E-05</text>
<text transform="translate(65,898.6749999999998) rotate(-60)" x="0" y="0" text-anchor="end" font-family='"Liberation Sans", sans-serif' font-size="20.5">1.5E-05</text>
<text transform="translate(65,1026.75) rotate(-60)" x="0" y="0" text-anchor="end" font-family='"Liberation Sans", sans-serif' font-size="20.5">1E-05</text>
<text transform="translate(65,1154.825) rotate(-60)" x="0" y="0" text-anchor="end" font-family='"Liberation Sans", sans-serif' font-size="20.5">5E-06</text>
<text transform="translate(65,1282.8999999999999) rotate(-60)" x="0" y="0" text-anchor="end" font-family='"Liberation Sans", sans-serif' font-size="20.5">0</text>
<text x="347.5" y="1323.1" text-anchor="middle" font-family='"Liberation Sans", sans-serif' font-weight="bold" font-size="24">x (m)</text>
<text transform="translate(19.9,1023.2) rotate(-90)" text-anchor="middle" font-family='"Liberation Sans", sans-serif' font-weight="bold" font-size="24">y (m)</text>
<text x="345.7" y="1386" text-anchor="middle" font-family='"Liberation Serif", serif' font-weight="bold" font-size="41.3">(b)</text>
<path d="M505.0,1041.0 L523.3,1093.0 L514.1,1093.0 L514.1,1146.8 L495.7,1146.8 L495.7,1093.0 L488.0,1093.0Z" fill="#fff" stroke="#000" stroke-width="1.6" stroke-linejoin="miter"/>
<rect x="329.9" y="1157.5" width="209.89999999999998" height="73.09999999999991" fill="#fff"/>
<text x="434.8" y="1186" text-anchor="middle" font-family='"Liberation Sans", sans-serif' font-weight="bold" font-size="25.5">Crack</text>
<text x="435.25" y="1223" text-anchor="middle" font-family='"Liberation Sans", sans-serif' font-weight="bold" font-size="25.5" letter-spacing="0.9">Nucleation</text>
</svg>
</body></html>
